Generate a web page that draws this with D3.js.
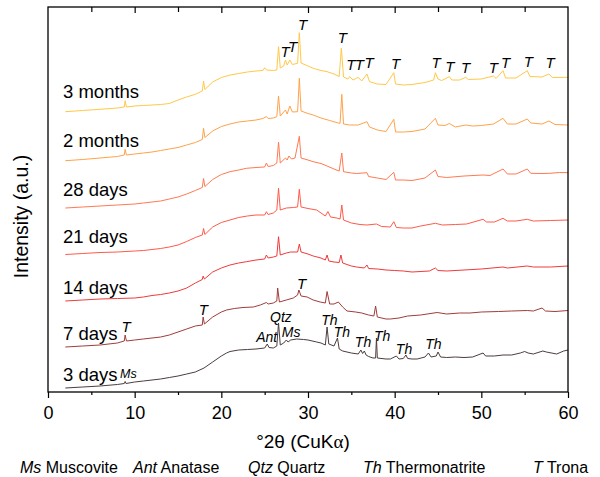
<!DOCTYPE html>
<html><head><meta charset="utf-8">
<script src="https://cdn.jsdelivr.net/npm/d3@7/dist/d3.min.js"></script>
<style>
html,body{margin:0;padding:0;background:#fff;}
svg text{font-family:"Liberation Sans",Arial,sans-serif;fill:#000;}
</style></head>
<body><svg id="c" width="600" height="477"></svg>
<script>
// ---------- data ----------
const seriesNames = ["3 days","7 days","14 days","21 days","28 days","2 months","3 months"];
const seriesOffsets = [0, 41, 87, 133, 180, 227, 276];
const seriesColors = ["#4d3d3d","#a03c3c","#f03a3a","#ff5a4a","#ff7a52","#ffa24a","#ffc848"];
const labelLift = [11, 11, 11, 16, 16, 18, 18];

const days3 = [[2,4],[4,5],[6,6],[8,7.5],[8.8,8.5],[8.9,10.5],[9,8.5],[10,10],[11,11],[12,12],[13,13],[14,14.5],[15,16],[16,18],[17,20],[18,24],[19,30],[20,36],[20.6,39],[21,40.5],[22,42],[23,42.5],[24,43],[25,44],[25.3,48],[25.5,44.5],[26,44],[26.4,46],[26.6,69],[26.8,47],[27.2,49],[27.5,52],[27.7,50],[28,52],[28.7,53],[29.5,52.5],[30,52],[31,50],[31.5,49],[32,47],[32.2,65],[32.4,48],[33,46],[33.4,54],[33.6,43],[34,41],[35,39],[35.8,38],[36.1,42],[36.3,38.5],[36.5,41],[36.7,37],[37,35.5],[37.5,34],[37.8,34],[37.9,54],[38,34],[39,33],[39.5,33],[40.2,36],[40.5,33],[41,33.5],[41.3,37],[41.5,33.5],[42,33],[42.6,33],[43.5,35],[43.9,39],[44.2,35],[44.8,36],[45,40],[45.3,35],[46,34.5],[47,35],[48,34.5],[49,35],[50.2,39],[50.5,36],[51.5,36],[52.5,37],[53.5,37],[54.5,39],[55,40.5],[55.4,39],[56,38],[57.1,41],[57.5,40],[58.7,38],[59.5,41],[60,42]];
const days7 = [[2,4],[4,5],[6,6],[8,8],[8.8,10],[8.9,16],[9.05,10],[10,11],[11,12],[12,13],[13,14],[14,16],[15,19],[16,22],[17,25],[17.8,26],[17.9,34],[18.05,27],[19,34],[20,39],[20.6,41],[21.5,42.5],[22.5,43.5],[23.7,44],[24.5,46],[25.2,48.5],[25.4,47],[26,48],[26.4,50],[26.5,63],[26.7,49],[27.5,51],[28.3,53],[28.8,56],[28.95,61],[29.2,55],[29.9,54],[30.6,51],[31.4,49],[32,48],[32.2,59.5],[32.5,47],[33,47],[33.5,49],[34,44],[34.5,40],[35.5,39],[36.2,38],[37,36],[37.6,35],[37.8,45],[38,34],[39,32],[39.5,32],[40.5,33],[41.5,35],[43,36],[44.9,38.5],[46,37],[47.5,38],[48.7,38],[50,39],[52,39.5],[53.5,40],[55.3,40.5],[56,40],[57,43],[57.4,40],[58.5,39.5],[60,40.5]];
const days14 = [[2,4],[4,5],[6,6],[8,6.5],[10,7],[11,8],[12,9.5],[13,10.5],[14,12],[15,14],[16,17],[17,22],[17.8,25.5],[17.9,29],[18.05,26],[19,33],[20,37],[21,40],[22,42],[22.9,43.3],[24,45],[25,46],[25.2,50],[25.4,47],[26,48],[26.4,49],[26.6,68.3],[26.8,50],[27.5,52],[28,53],[28.8,53],[29,61],[29.2,53],[30,51],[30.6,49],[31.5,47],[32,45],[32.2,50],[32.4,44],[33,43],[33.6,42.5],[33.8,50],[34,42],[35,39],[35.6,38],[36.5,37],[36.8,40],[37,36.5],[38,36],[39,35],[40,34.5],[41,34],[42,33],[44,34],[44.7,37],[45,34.5],[46,34],[48,35],[50,36],[52.5,38],[53,37],[55.3,39],[56,38],[58,38],[60,39]];
const days21 = [[2,4.5],[4,5.5],[6,6.5],[8,7],[9,7.5],[10,8],[11,8.5],[12,9.5],[13,10.5],[14,12],[15,14],[16,17.5],[17,21.5],[17.8,24],[17.95,30.5],[18.1,24.5],[19,32],[20,36.5],[21,39],[22,41.5],[23,43],[24,44],[25,44],[25.2,47.3],[25.4,44.5],[26,46],[26.4,49],[26.6,70.7],[26.8,49],[27.5,51],[28.3,51.5],[28.8,52],[29,69.7],[29.2,52],[30,50.5],[31,49],[32,43],[32.3,47.5],[32.6,42],[33.3,41],[33.7,40],[33.9,54],[34.1,39],[35,36],[36,34.5],[36.8,34],[37.9,35],[38.5,32.5],[39.5,32],[39.9,37.3],[40.2,31.5],[41,31],[42,31],[43,33],[44.7,35.7],[45.5,34],[47,34.5],[48.3,35],[50.2,39.7],[50.6,37],[51.5,37],[52.5,40.7],[53,38],[54,38],[55.3,39.7],[56,38],[58,38.5],[60,39]];
const days28 = [[2,4],[4,5],[6,6],[8,7],[9,7.5],[10,8],[11,9],[12,10],[13,11],[14,13],[15,15],[16,18],[17,21.5],[17.8,24.5],[17.95,33.5],[18.1,25.5],[19,32.5],[20,37.5],[21,40.3],[22,42],[22.9,43.7],[24,44.5],[25,45],[25.2,49],[25.4,45.5],[26,46.5],[26.4,49],[26.6,70],[26.8,49],[27.4,54],[27.6,52],[27.8,56],[28.1,53],[28.5,54],[29,75.7],[29.2,54],[30,52],[30.6,50.3],[31.5,48.5],[32.2,46],[33,43],[33.6,41],[33.9,59],[34.1,40.3],[35,39],[35.6,38.5],[36.8,39.3],[37,35.5],[38,34],[39,32.5],[39.9,39.7],[40.1,32],[41,32],[42,31.5],[43.5,34],[44.7,42],[45,35.5],[46,34.5],[48,36],[50.2,37],[51,36.5],[52.5,43],[53,38],[54,38],[55.3,43],[55.7,38.7],[57,38.5],[57.9,38.7],[59,39.5],[60,39.3]];
const months2 = [[2,4.3],[4,5.5],[6,7],[8,8.5],[8.8,10],[8.9,15.7],[9.05,10],[10,11],[11,12],[12,13],[13,14.5],[14,16],[15,17.5],[16,20],[17,22.5],[17.8,25.5],[17.95,36.7],[18.1,27.5],[19,34],[20,38.5],[21,41],[22,43],[23,44],[24,45],[24.8,46.5],[25.2,48.5],[25.4,46.5],[26,47],[26.4,48.3],[26.6,69],[26.8,49],[27.4,55],[27.6,51],[27.9,59],[28.2,53],[28.8,53.3],[29,86.7],[29.2,54],[30,51.5],[30.6,50],[31.5,47],[32.5,44.5],[33.5,42],[33.7,41.7],[33.9,70.7],[34.1,41],[34.8,40],[35.8,40],[36.8,43.3],[37.1,38],[38,35],[39,33.5],[39.9,45.7],[40.1,33],[41,33],[42,33.5],[43.5,36],[44.7,46.7],[45,40],[45.8,39.5],[46.3,41.5],[47,38],[48.2,40],[49,39],[50,39.5],[51.4,41],[52.5,46.7],[53,41],[54,41],[55.3,46],[55.7,42],[57,41],[57.8,44],[58.5,40.5],[60,40]];
const months3 = [[2,4.3],[4,5.5],[6,6.7],[8,8],[8.8,9],[8.9,15.3],[9.05,9],[10,10],[11,10.5],[12,11],[13,11.5],[14,12.5],[15,16],[16,19],[17,21.7],[17.8,25],[17.95,35],[18.1,26.5],[19,34],[20,38.5],[21,41],[22,42.5],[23,44],[24,45],[24.8,45.5],[25,48.3],[25.2,46],[26,45.5],[26.4,46],[26.6,69.3],[26.8,48],[27.2,50],[27.4,56],[27.6,51],[27.9,56],[28.2,51.5],[28.8,52.7],[29,83.3],[29.2,53],[30,50],[30.6,47.7],[31.5,45.5],[32.2,44.3],[33,42],[33.6,39.5],[33.85,67.7],[34.1,39],[34.6,37],[34.8,39.3],[35.2,36],[35.8,38.7],[36.2,35],[36.8,42],[37.1,34.3],[38,32],[39,31.5],[39.9,43.3],[40.1,32],[41,31],[42,31.5],[43.5,33.5],[44.5,36],[44.7,43.3],[45,37],[45.4,35.5],[45.8,37],[46.3,39.3],[46.6,36],[47.5,36],[48.2,38.7],[48.5,36.5],[50,37],[51.4,40],[51.7,37.5],[52.5,45.3],[52.8,38],[54,38],[55.3,45.3],[55.6,39.5],[57,39],[57.8,42],[58.2,38.5],[60,38.7]];
const seriesData = [days3, days7, days14, days21, days28, months2, months3];

// phase annotations: [text, 2theta, level (a.u. on stacked scale)]
const peakLabels = [
  ["T",29.38,362],["T",27.35,335.3],["T",28.23,340.3],["T",33.96,349.3],
  ["T",34.93,322],["T",35.92,322],["T",37.04,323.7],["T",40.12,323],
  ["T",44.77,323.7],["T",46.38,320.3],["T",48.19,318.7],["T",51.38,318.7],
  ["T",52.81,324.3],["T",55.42,325.3],["T",57.92,323.7],
  ["T",9.0,60.3],["T",17.92,76.7],["T",29.25,103.3],
  ["Qtz",26.88,70],["Ant",25.23,50],["Ms",28.06,55.3],
  ["Th",32.46,66.7],["Th",33.92,55.3],["Th",36.35,45.3],["Th",38.56,51.5],
  ["Th",41.08,37.7],["Th",44.46,43]
];
const smallLabel = ["Ms", 9.27, 14];
const xTicks = [0,10,20,30,40,50,60];
const xMinorTicks = [5,15,25,35,45,55];
const legendItems = [["Ms"," Muscovite"],["Ant"," Anatase"],["Qtz"," Quartz"],["Th"," Thermonatrite"],["T"," Trona"]];
const legendX = [20,133,248,363,533];

// ---------- chart ----------
const svg = d3.select("#c");
const L = 48, R = 568, T = 7, B = 392;
const x = d3.scaleLinear().domain([0,60]).range([L,R]);
const y = d3.scaleLinear().domain([0,385]).range([B,T]);

const line = d3.line().x(d=>x(d[0])).y(d=>y(d[1]));

seriesData.forEach((s,i)=>{
  const off = seriesOffsets[i];
  svg.append("path")
    .datum(s.map(d=>[d[0], d[1]+off]))
    .attr("d", line)
    .attr("fill","none")
    .attr("stroke", seriesColors[i])
    .attr("stroke-width", 1)
    .attr("stroke-linejoin","round");
  svg.append("text")
    .attr("x", 63)
    .attr("y", y(off + labelLift[i]))
    .attr("font-size", 18.5)
    .text(seriesNames[i]);
});

svg.selectAll("text.pk").data(peakLabels).enter().append("text")
  .attr("class","pk")
  .attr("x", d=>x(d[1])).attr("y", d=>y(d[2]))
  .attr("text-anchor","middle")
  .attr("font-size", d=>d[0]==="T"?15:14)
  .attr("font-style","italic")
  .text(d=>d[0]);

svg.append("text")
  .attr("x", x(smallLabel[1])).attr("y", y(smallLabel[2]))
  .attr("text-anchor","middle").attr("font-size",12.5).attr("font-style","italic")
  .text(smallLabel[0]);

// frame
svg.append("rect").attr("x",L).attr("y",T).attr("width",R-L).attr("height",B-T)
  .attr("fill","none").attr("stroke","#000").attr("stroke-width",1.3);

// bottom axis
const gB = svg.append("g").attr("transform",`translate(0,${B})`)
  .call(d3.axisBottom(x).tickValues(xTicks).tickSize(6).tickPadding(8).tickFormat(d3.format("d")));
gB.select(".domain").remove();
gB.selectAll("line").attr("stroke","#000").attr("stroke-width",1.2);
gB.selectAll("text").attr("font-size",18).attr("font-family","Liberation Sans, Arial, sans-serif").attr("fill","#000");
const gBm = svg.append("g").attr("transform",`translate(0,${B})`)
  .call(d3.axisBottom(x).tickValues(xMinorTicks).tickSize(3).tickFormat(""));
gBm.select(".domain").remove();
gBm.selectAll("line").attr("stroke","#000").attr("stroke-width",1.2);

// top inward ticks
const gT = svg.append("g").attr("transform",`translate(0,${T})`)
  .call(d3.axisTop(x).tickValues(xTicks.slice(1,-1)).tickSize(-6).tickFormat(""));
gT.select(".domain").remove();
gT.selectAll("line").attr("stroke","#000").attr("stroke-width",1.2);
const gTm = svg.append("g").attr("transform",`translate(0,${T})`)
  .call(d3.axisTop(x).tickValues(xMinorTicks).tickSize(-5).tickFormat(""));
gTm.select(".domain").remove();
gTm.selectAll("line").attr("stroke","#000").attr("stroke-width",1.2);

// axis titles
const xt = svg.append("text").attr("x",303).attr("y",447.5).attr("text-anchor","middle").attr("font-size",19);
xt.append("tspan").text("°2θ (CuK");
xt.append("tspan").attr("font-family","Liberation Serif, serif").text("α");
xt.append("tspan").text(")");

svg.append("text").attr("transform","translate(28,216.5) rotate(-90)")
  .attr("text-anchor","middle").attr("font-size",19.5).text("Intensity (a.u.)");

// legend
legendItems.forEach((it,i)=>{
  const t = svg.append("text").attr("x",legendX[i]).attr("y",473).attr("font-size",16);
  t.append("tspan").attr("font-style","italic").text(it[0]);
  t.append("tspan").text(it[1]);
});
</script></body></html>
